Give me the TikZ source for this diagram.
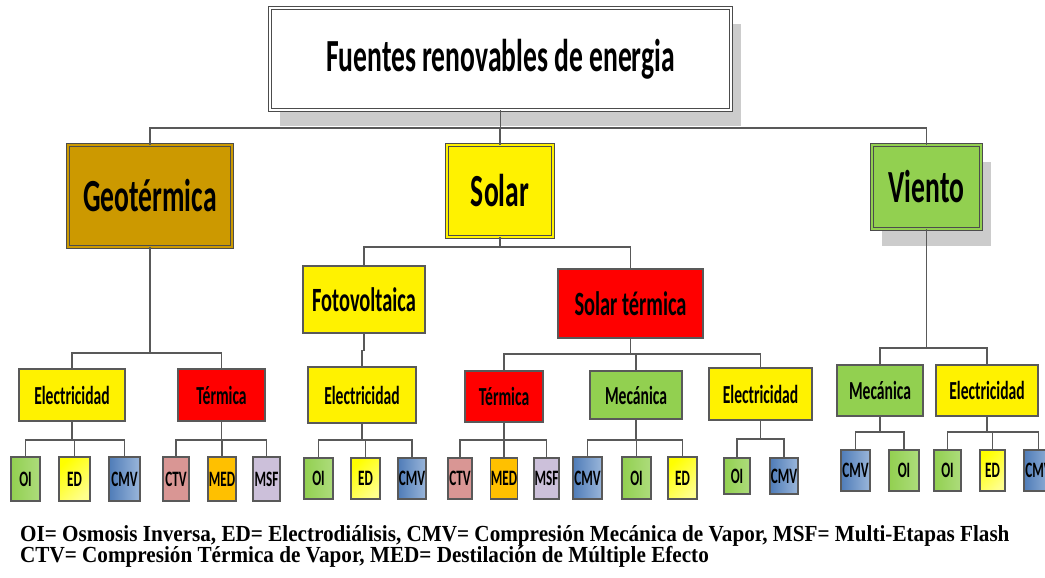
\documentclass[tikz,border=0pt]{standalone}
\usepackage{fontspec}
\newfontfamily\boxfont{Carlito}[FakeStretch=0.6]
\newfontfamily\notefont{Liberation Serif}[FakeStretch=0.92]
\usetikzlibrary{shadows}
\definecolor{geocol}{RGB}{204,153,0}
\definecolor{leafgreen}{RGB}{146,208,80}
\definecolor{cmvdark}{RGB}{79,124,184}
\definecolor{cmvlight}{RGB}{154,182,218}
\definecolor{ctvcol}{RGB}{217,150,148}
\definecolor{medcol}{RGB}{255,192,0}
\definecolor{msfcol}{RGB}{204,192,218}
\definecolor{edgecol}{RGB}{89,89,89}
\tikzset{
  topbox/.style={draw=black!70, double=white, double distance=1.6pt, line width=.8pt,
    fill=white, minimum width=461pt, minimum height=102pt, inner sep=0pt,
    font={\boxfont\bfseries\fontsize{46}{50}\selectfont},
    drop shadow={shadow xshift=10pt, shadow yshift=-16pt, fill=black!20, opacity=1}},
  srcbox/.style={draw=black!70, double=#1, double distance=1.6pt, line width=.8pt,
    fill=#1, inner sep=0pt, font={\boxfont\bfseries\fontsize{46}{50}\selectfont}},
  typebox/.style={draw=edgecol, line width=1.2pt, fill=#1, inner sep=0pt,
    font={\boxfont\bfseries\fontsize{34}{38}\selectfont}},
  usebox/.style={draw=edgecol, line width=1.2pt, fill=#1, inner sep=0pt,
    font={\boxfont\bfseries\fontsize{26}{30}\selectfont}},
  techbox/.style={draw=edgecol, line width=1.2pt, inner sep=0pt,
    minimum width=29pt, minimum height=43pt,
    font={\boxfont\bfseries\fontsize{22}{26}\selectfont}},
  oi/.style={techbox, left color=leafgreen, right color=leafgreen!75!white},
  ed/.style={techbox, top color=yellow, middle color=yellow, bottom color=yellow!45!white, shading angle=45},
  cmv/.style={techbox, left color=cmvdark, right color=cmvlight},
  ctv/.style={techbox, fill=ctvcol},
  med/.style={techbox, fill=medcol},
  msf/.style={techbox, fill=msfcol},
  link/.style={draw=edgecol, line width=1.4pt},
  note/.style={font={\notefont\bfseries\fontsize{23}{26}\selectfont}, inner sep=0pt}
}
\newcommand{\branch}[3]{
  \foreach \kid in {#3}
    \draw[link] (#1.south) |- (\kid.north |- 0,#2) -- (\kid.north);
}

\begin{document}
\begin{tikzpicture}[x=1pt, y=-1pt]
  \useasboundingbox (0,0) rectangle (1045,578);
  \clip (0,0) rectangle (1045,578);

  \node[topbox] (fuentes) at (500.5,59) {Fuentes renovables de energia};
  \node[srcbox=geocol, minimum width=164pt, minimum height=102pt] (geo) at (150,196) {Geotérmica};
  \node[srcbox=yellow, minimum width=106pt, minimum height=92pt] (solar) at (500,191) {Solar};
  \node[srcbox=leafgreen, minimum width=109pt, minimum height=84pt,
    drop shadow={shadow xshift=10pt, shadow yshift=-17pt, fill=black!20, opacity=1}] (viento) at (926.5,187) {Viento};

  % geotermica
  \node[usebox=yellow, minimum width=106pt, minimum height=52pt] (elgeo) at (72,395) {Electricidad};
  \node[usebox=red, minimum width=87pt, minimum height=52pt] (termgeo) at (221.5,395) {Térmica};
  \node[oi, minimum width=29pt, minimum height=44pt] (oigeo) at (25.5,479) {OI};
  \node[ed, minimum width=31pt, minimum height=44pt] (edgeo) at (74.5,479) {ED};
  \node[cmv, minimum width=31pt, minimum height=44pt] (cmvgeo) at (124.5,479) {CMV};
  \node[ctv, minimum width=26pt, minimum height=44pt] (ctvgeo) at (176,479) {CTV};
  \node[med, minimum width=28pt, minimum height=44pt] (medgeo) at (222,479) {MED};
  \node[msf, minimum width=27pt, minimum height=44pt] (msfgeo) at (266.5,479) {MSF};

  % solar
  \node[typebox=yellow, minimum width=122pt, minimum height=67pt] (foto) at (364,299.5) {Fotovoltaica};
  \node[typebox=red, minimum width=145pt, minimum height=69pt] (soltherm) at (630.5,303.5) {Solar térmica};
  \node[usebox=yellow, minimum width=108pt, minimum height=56pt] (elfoto) at (362,395) {Electricidad};
  \node[oi, minimum height=41pt] (oifoto) at (318.5,478.5) {OI};
  \node[ed, minimum height=41pt] (edfoto) at (365.5,478.5) {ED};
  \node[cmv, minimum width=28pt, minimum height=41pt] (cmvfoto) at (412,478.5) {CMV};
  \node[usebox=red, minimum width=78pt, minimum height=51pt] (termsol) at (504,396.5) {Térmica};
  \node[usebox=leafgreen, minimum width=92pt, minimum height=48pt] (mecsol) at (636,395) {Mecánica};
  \node[usebox=yellow, minimum width=103pt, minimum height=52pt] (elsol) at (760.5,394) {Electricidad};
  \node[ctv, minimum width=24pt, minimum height=41pt] (ctvsol) at (460,478.5) {CTV};
  \node[med, minimum width=24pt, minimum height=41pt] (medsol) at (504,478.5) {MED};
  \node[msf, minimum width=25pt, minimum height=41pt] (msfsol) at (546.5,478.5) {MSF};
  \node[cmv, minimum height=42pt] (cmvmec) at (587.5,478) {CMV};
  \node[oi, minimum height=42pt] (oimec) at (636.5,478) {OI};
  \node[ed, minimum height=42pt] (edmec) at (682.5,478) {ED};
  \node[oi, minimum width=26pt, minimum height=36pt] (oielsol) at (737,476) {OI};
  \node[cmv, minimum width=28pt, minimum height=36pt] (cmvelsol) at (784,476) {CMV};

  % viento
  \node[usebox=leafgreen, minimum width=86pt, minimum height=51pt] (mecvto) at (880,390.5) {Mecánica};
  \node[usebox=yellow, minimum width=102pt, minimum height=51pt] (elvto) at (987,390.5) {Electricidad};
  \node[cmv, minimum height=41pt] (cmvvto) at (855.5,470.5) {CMV};
  \node[oi, minimum width=30pt, minimum height=41pt] (oivto) at (904,470.5) {OI};
  \node[oi, minimum width=27pt, minimum height=41pt] (oielvto) at (947.5,470.5) {OI};
  \node[ed, minimum width=25pt, minimum height=41pt] (edelvto) at (992.5,470.5) {ED};
  \node[cmv, minimum height=41pt] (cmvelvto) at (1038.5,470.5) {CMV};

  % tree lines
  \branch{fuentes}{128}{geo,solar,viento}
  \branch{geo}{353}{elgeo,termgeo}
  \branch{elgeo}{440}{oigeo,edgeo,cmvgeo}
  \branch{termgeo}{440}{ctvgeo,medgeo,msfgeo}
  \branch{solar}{247}{foto,soltherm}
  \draw[link] (foto.south) -- ++(0,17) -| (elfoto.north);
  \branch{elfoto}{440}{oifoto,edfoto,cmvfoto}
  \branch{soltherm}{354}{termsol,mecsol,elsol}
  \branch{termsol}{440}{ctvsol,medsol,msfsol}
  \branch{mecsol}{440}{cmvmec,oimec,edmec}
  \branch{elsol}{439}{oielsol,cmvelsol}
  \branch{viento}{348}{mecvto,elvto}
  \branch{mecvto}{432}{cmvvto,oivto}
  \branch{elvto}{432}{oielvto,edelvto,cmvelvto}

  % key
  \node[note, anchor=base west] (key1) at (20,541) {OI= Osmosis Inversa, ED= Electrodiálisis, CMV= Compresión Mecánica de Vapor, MSF= Multi-Etapas Flash};
  \node[note, anchor=base west] (key2) at (20,562) {CTV= Compresión Térmica de Vapor, MED= Destilación de Múltiple Efecto};
\end{tikzpicture}
\end{document}
